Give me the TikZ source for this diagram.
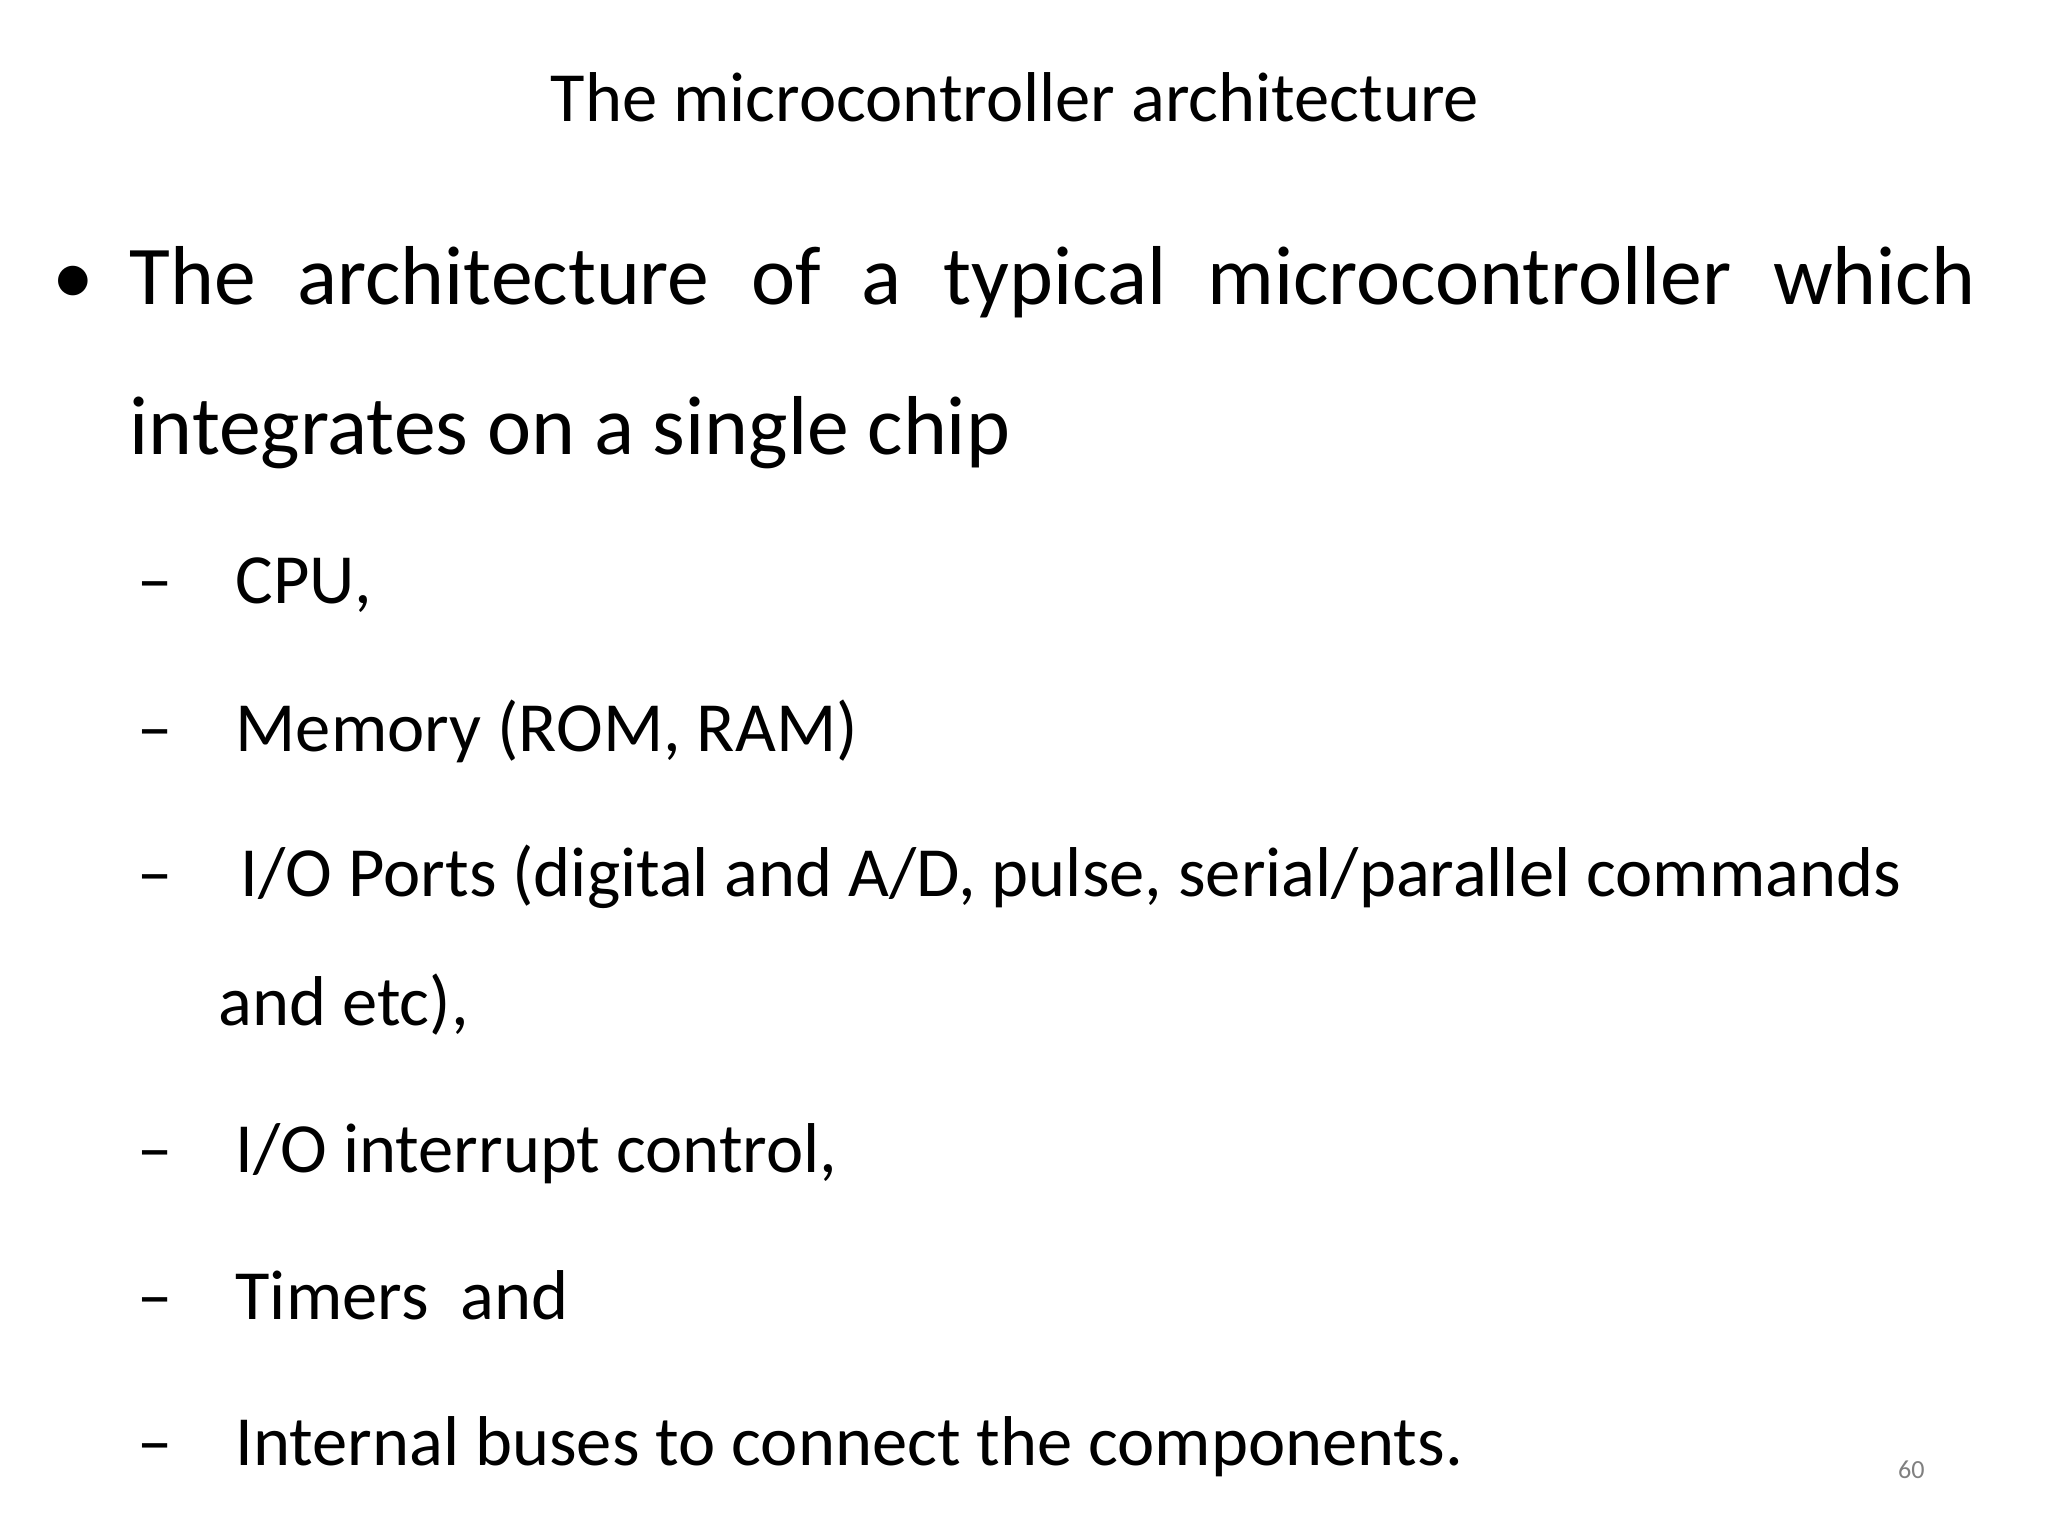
\documentclass[tikz,border=0pt]{standalone}
\usepackage{fontspec}
\setmainfont{Carlito}
\tikzset{txt/.style={anchor=base west,inner sep=0pt,font=\fontsize{32}{38}\selectfont},
sub/.style={anchor=base west,inner sep=0pt,font=\fontsize{27}{32}\selectfont}}
\begin{document}
\begin{tikzpicture}[x=0.5pt,y=-0.5pt]
\useasboundingbox (0,0) rectangle (1568,1176);
\node[anchor=base,inner sep=0pt,font=\fontsize{27}{32}\selectfont] (title) at (777,93) {The microcontroller architecture};
\node[txt] (b) at (40,233) {•};
\node[txt] (l1) at (99,233) {\hbox to 706.5pt{The\hfill architecture\hfill of\hfill a\hfill typical\hfill microcontroller\hfill which}};
\node[txt] (l2) at (99,348) {integrates on a single chip};
\node[sub] (d1) at (105,462) {–};
\node[sub] (s1) at (180,462) {CPU,};
\node[sub] (d2) at (105,575) {–};
\node[sub] (s2) at (180,575) {Memory (ROM, RAM)};
\node[sub] (d3) at (105,686) {–};
\node[sub] (s3) at (184,686) {I/O Ports (digital and A/D, pulse, serial/parallel commands};
\node[sub] (s3b) at (167,785) {and etc),};
\node[sub] (d4) at (105,898) {–};
\node[sub] (s4) at (180,898) {I/O interrupt control,};
\node[sub] (d5) at (105,1010) {–};
\node[sub] (s5) at (180,1010) {Timers\ \ and};
\node[sub] (d6) at (105,1122) {–};
\node[sub] (s6) at (180,1122) {Internal buses to connect the components.};
\node[anchor=base east,inner sep=0pt,font=\fontsize{10}{12}\selectfont,text=gray] (pg) at (1474,1132) {60};
\end{tikzpicture}
\end{document}
